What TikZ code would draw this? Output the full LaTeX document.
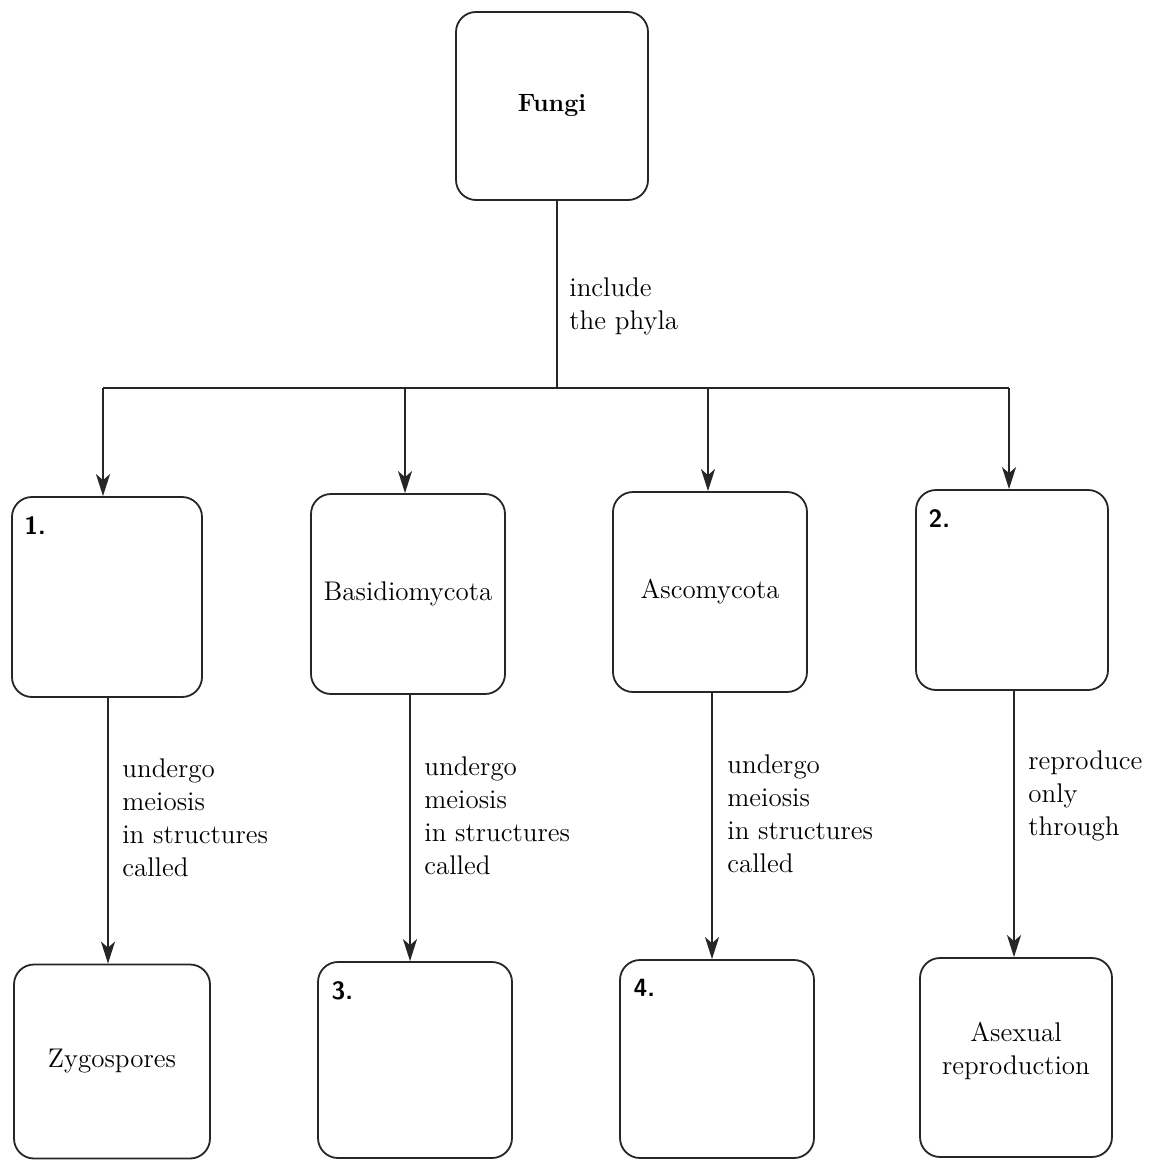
\documentclass[tikz,border=0pt]{standalone}
\usetikzlibrary{arrows.meta}
\begin{document}
\begin{tikzpicture}[x=0.5pt,y=-0.5pt,
  box/.style={draw=black!85, line width=0.9pt, rounded corners=10pt, fill=none,
    minimum width=#1, inner sep=0pt, align=center, font=\fontsize{13.5}{16.5}\selectfont},
  box/.default=96pt,
  txt/.style={inner sep=0pt, align=center, font=\fontsize{13.5}{16.5}\selectfont},
  lbl/.style={anchor=north west, inner sep=0pt, align=left, font=\fontsize{13.5}{16.5}\selectfont},
  num/.style={anchor=north west, inner sep=0pt, font=\sffamily\bfseries\fontsize{12.5}{14}\selectfont},
  ln/.style={draw=black!85, line width=0.9pt},
  arr/.style={ln, -{Stealth[length=11pt,width=7pt,inset=3pt]}}
]
\path[use as bounding box] (0,0) rectangle (1154,1160);
% boxes
\node[box, minimum width=96pt, minimum height=94pt] (fungi) at (552,106) {\bfseries\fontsize{12.5}{15}\selectfont Fungi};
\node[box, minimum width=95pt, minimum height=100pt] (b1) at (107,597) {};
\node[box, minimum width=97pt, minimum height=100pt] (basid) at (408,594) {Basidiomycota};
\node[box, minimum width=97pt, minimum height=100pt] (asco) at (710,592) {Ascomycota};
\node[box, minimum width=96pt, minimum height=100pt] (b2) at (1012,590) {};
\node[box, minimum width=98pt, minimum height=97pt] (zygo) at (112,1061.5) {Zygospores};
\node[box, minimum width=97pt, minimum height=98pt] (b3) at (415,1060) {};
\node[box, minimum width=97pt, minimum height=99pt] (b4) at (717,1059) {};
\node[box, minimum width=96pt, minimum height=99.5pt] (asex) at (1016,1057.5) {};
\node[txt] (asext) at ([yshift=3.5pt]asex.center) {Asexual\\reproduction};
% numbers
\node[num] (n1) at ([xshift=6.5pt,yshift=-10pt]b1.north west) {1.};
\node[num] (n2) at ([xshift=6.5pt,yshift=-10pt]b2.north west) {2.};
\node[num] (n3) at ([xshift=7pt,yshift=-10pt]b3.north west) {3.};
\node[num] (n4) at ([xshift=7pt,yshift=-10pt]b4.north west) {4.};
% trunk and branches
\coordinate (hub) at (557,388);
\coordinate (t1) at (103,388);
\coordinate (t2) at (405,388);
\coordinate (t3) at (708,388);
\coordinate (t4) at (1009,388);
\draw[ln] (fungi.south -| hub) -- (hub);
\draw[ln] (t1) -- (t4);
\draw[arr] (t1) -- (t1 |- b1.north);
\draw[arr] (t2) -- (t2 |- basid.north);
\draw[arr] (t3) -- (t3 |- asco.north);
\draw[arr] (t4) -- (t4 |- b2.north);
\node[lbl] (linc) at (569,277) {include\\the phyla};
% lower arrows
\coordinate (d1) at (108,0);
\coordinate (d2) at (410,0);
\coordinate (d3) at (712,0);
\coordinate (d4) at (1014,0);
\draw[arr] (d1 |- b1.south) -- (d1 |- zygo.north);
\draw[arr] (d2 |- basid.south) -- (d2 |- b3.north);
\draw[arr] (d3 |- asco.south) -- (d3 |- b4.north);
\draw[arr] (d4 |- b2.south) -- (d4 |- asex.north);
\node[lbl] (l1) at (122,758) {undergo\\meiosis\\in structures\\called};
\node[lbl] (l2) at (424,756) {undergo\\meiosis\\in structures\\called};
\node[lbl] (l3) at (727,754) {undergo\\meiosis\\in structures\\called};
\node[lbl] (l4) at (1028,750) {reproduce\\only\\through};
\end{tikzpicture}
\end{document}
